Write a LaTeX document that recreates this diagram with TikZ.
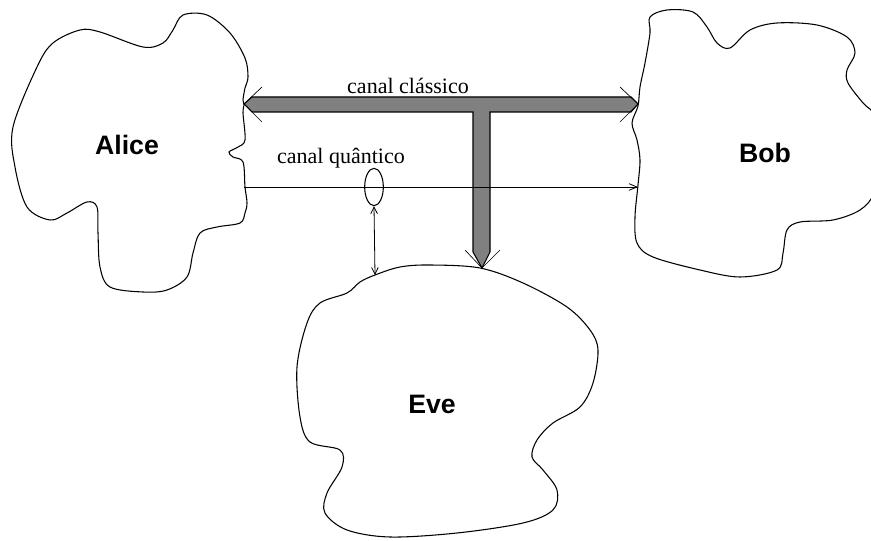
\documentclass[tikz,border=0pt]{standalone}
\usepackage{fontspec}
\setmainfont{Liberation Serif}
\newfontfamily\namefont{Liberation Sans}
\usetikzlibrary{arrows.meta,shapes.geometric}
\begin{document}
\begin{tikzpicture}[x=0.75pt,y=-0.75pt,
  blob/.style={draw=black,line width=0.8pt,fill=white},
  namelabel/.style={font=\namefont\bfseries\fontsize{20}{20}\selectfont},
  chanlabel/.style={font=\fontsize{16.5}{16.5}\selectfont},
  bar/.style={draw=black,line width=0.8pt,fill=black!50},
  chev/.style={draw=black,line width=0.5pt},
  thin/.style={draw=black,line width=0.6pt}]
\useasboundingbox (0,0) rectangle (871,541);
\fill[white] (0,0) rectangle (871,541);
% Alice
\draw[blob] plot[smooth cycle,tension=0.55] coordinates {
 (13,127) (37,67) (53,43) (80,30) (100,32) (143,47) (163,43) (173,30)
 (183,15) (207,15) (230,33) (245,58) (248,77) (245,88) (243,100) (244,105)
 (243,113) (245,140) (238,147) (229,152) (233,157) (243,162) (245,187)
 (247,203) (245,213) (240,223) (217,227) (200,233) (193,253) (187,277)
 (167,290) (143,292) (110,287) (100,267) (98,233) (97,207) (87,202)
 (67,213) (50,220) (27,207) (15,167)};
% Bob
\draw[blob] plot[smooth cycle,tension=0.55] coordinates {
 (650,17) (667,10) (693,12) (707,27) (717,43) (730,48) (750,30) (777,23)
 (817,25) (847,37) (855,53) (847,70) (848,83) (863,103) (876,118) (878,160)
 (874,193) (860,210) (833,220) (800,222) (787,230) (783,253) (777,270)
 (740,277) (700,270) (653,257) (637,243) (635,217) (638,185) (640,160)
 (637,140) (632,123) (638,106) (640,87) (645,63) (650,33)};
% Eve
\draw[blob] plot[smooth cycle,tension=0.55] coordinates {
 (375,275) (400,267) (430,265) (480,268) (523,283) (567,307) (590,330)
 (598,350) (593,383) (580,407) (553,423) (537,440) (532,457) (543,470)
 (557,490) (553,510) (523,523) (457,533) (390,537) (347,530) (325,513)
 (327,493) (342,467) (340,450) (310,442) (300,417) (297,367) (307,323)
 (320,303) (347,293) (360,282)};
% names
\node[namelabel] (alice) at (127,145) {Alice};
\node[namelabel] (bob) at (765,153) {Bob};
\node[namelabel] (eve) at (432,404) {Eve};
% classical channel (T-shaped thick bar)
\coordinate (cl) at (244,104);
\coordinate (cr) at (638,104);
\coordinate (ce) at (482,268);
\draw[bar] (cl) -- (252,97) -- (631,97) -- (cr) -- (631,112) -- (490,112)
  -- (490,252) -- (ce) -- (473,252) -- (473,112) -- (252,112) -- cycle;
\draw[chev] (262,87) -- (cl) -- (262,122);
\draw[chev] (620,87) -- (cr) -- (620,122);
\draw[chev] (465,250) -- (ce) -- (500,250);
\node[chanlabel] (lclass) at (408,86) {canal clássico};
% quantum channel
\coordinate (qa) at (244,187);
\coordinate (qb) at (638,187);
\draw[thin,-{Straight Barb[length=6pt,width=5pt]}] (qa) -- (qb);
\node[chanlabel] (lquant) at (341,158) {canal quântico};
% Eve's tap
\node[draw=black,line width=0.8pt,ellipse,minimum width=14pt,minimum height=28pt,inner sep=0pt] (tap) at (374,187) {};
\coordinate (evetop) at (375,275);
\draw[thin,{Straight Barb[length=5pt,width=5pt]}-{Straight Barb[length=5pt,width=5pt]}] (tap.south) -- (evetop);
\end{tikzpicture}
\end{document}
